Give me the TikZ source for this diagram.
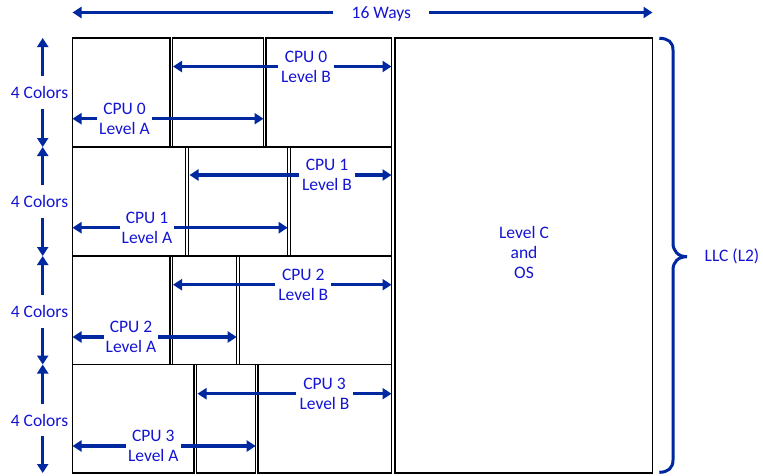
\documentclass[tikz,border=0pt]{standalone}
\usepackage{fontspec}
\setmainfont{Carlito}
\usetikzlibrary{arrows.meta}
\definecolor{arrowblue}{RGB}{0,40,160}
\definecolor{textblue}{RGB}{20,20,210}
\begin{document}
\begin{tikzpicture}[x=1pt,y=-1pt,
  box/.style={draw=black,line width=1.3pt},
  arr/.style={draw=arrowblue,line width=3.5pt,-{Triangle[length=9pt,width=11pt]}},
  brace/.style={draw=arrowblue,line width=3pt},
  lbl/.style={text=textblue,font=\fontsize{17.5}{20}\selectfont,align=center,inner xsep=2pt,inner ysep=0pt},
]
\useasboundingbox (0,0) rectangle (763,475);

% row 1
\draw[box] (72.5,38) rectangle (170,147);
\draw[box] (172.5,38) rectangle (263.5,147);
\draw[box] (266,38) rectangle (391.5,147);
% row 2
\draw[box] (72.5,147) rectangle (185.7,256);
\draw[box] (188.7,147) rectangle (287.7,256);
\draw[box] (290.7,147) rectangle (391.5,256);
% row 3
\draw[box] (72.5,256) rectangle (170,364.5);
\draw[box] (172.5,256) rectangle (236.7,364.5);
\draw[box] (239.2,256) rectangle (391.5,364.5);
% row 4
\draw[box] (72.5,364.5) rectangle (194,473);
\draw[box] (196.7,364.5) rectangle (255.7,473);
\draw[box] (258,364.5) rectangle (391.5,473);
% level C
\draw[box] (395,38) rectangle (652.5,473);

% top arrow
\node[lbl,text depth=0pt,inner xsep=18pt] (ways) at (381.3,12.5) {16 Ways};
\coordinate (wl) at (72.5,12.5);
\coordinate (wr) at (652.5,12.5);
\draw[arr] (ways.west) -- (wl);
\draw[arr] (ways.east) -- (wr);

% 4 Colors
\node[lbl,inner ysep=10pt] (c0) at (39.5,92.7) {4 Colors};
\node[lbl,inner ysep=10pt] (c1) at (39.5,201.7) {4 Colors};
\node[lbl,inner ysep=10pt] (c2) at (39.5,311.2) {4 Colors};
\node[lbl,inner ysep=10pt] (c3) at (39.5,420) {4 Colors};
\coordinate (k0) at (42.7,38);
\coordinate (k1) at (42.7,147);
\coordinate (k2) at (42.7,256);
\coordinate (k3) at (42.7,364.5);
\coordinate (k4) at (42.7,473);
\draw[arr] (c0.north -| k0) -- (k0);
\draw[arr] (c0.south -| k0) -- (k1);
\draw[arr] (c1.north -| k0) -- (k1);
\draw[arr] (c1.south -| k0) -- (k2);
\draw[arr] (c2.north -| k0) -- (k2);
\draw[arr] (c2.south -| k0) -- (k3);
\draw[arr] (c3.north -| k0) -- (k3);
\draw[arr] (c3.south -| k0) -- (k4);

% CPU 0
\node[lbl] (tA0) at (124.5,118.7) {CPU 0\\Level A};
\coordinate (a0l) at (72.5,118.7);
\coordinate (a0r) at (263.5,118.7);
\draw[arr] (tA0.west) -- (a0l);
\draw[arr] (tA0.east) -- (a0r);
\node[lbl,inner xsep=3pt] (tB0) at (306,66.5) {CPU 0\\Level B};
\coordinate (b0l) at (173,66.5);
\coordinate (b0r) at (391.5,66.5);
\draw[arr] (tB0.west) -- (b0l);
\draw[arr] (tB0.east) -- (b0r);

% CPU 1
\node[lbl] (tA1) at (147,227.7) {CPU 1\\Level A};
\coordinate (a1l) at (72.5,227.7);
\coordinate (a1r) at (287.7,227.7);
\draw[arr] (tA1.west) -- (a1l);
\draw[arr] (tA1.east) -- (a1r);
\node[lbl,inner xsep=3pt] (tB1) at (327,175) {CPU 1\\Level B};
\coordinate (b1l) at (189.5,175);
\coordinate (b1r) at (391.5,175);
\draw[arr] (tB1.west) -- (b1l);
\draw[arr] (tB1.east) -- (b1r);

% CPU 2
\node[lbl] (tA2) at (131,337) {CPU 2\\Level A};
\coordinate (a2l) at (72.5,337);
\coordinate (a2r) at (236.7,337);
\draw[arr] (tA2.west) -- (a2l);
\draw[arr] (tA2.east) -- (a2r);
\node[lbl,inner xsep=3pt] (tB2) at (303.3,284.7) {CPU 2\\Level B};
\coordinate (b2l) at (173,284.7);
\coordinate (b2r) at (391.5,284.7);
\draw[arr] (tB2.west) -- (b2l);
\draw[arr] (tB2.east) -- (b2r);

% CPU 3
\node[lbl] (tA3) at (153.3,446) {CPU 3\\Level A};
\coordinate (a3l) at (72.5,446);
\coordinate (a3r) at (255.7,446);
\draw[arr] (tA3.west) -- (a3l);
\draw[arr] (tA3.east) -- (a3r);
\node[lbl,inner xsep=3pt] (tB3) at (324.5,393.7) {CPU 3\\Level B};
\coordinate (b3l) at (197.5,393.7);
\coordinate (b3r) at (391.5,393.7);
\draw[arr] (tB3.west) -- (b3l);
\draw[arr] (tB3.east) -- (b3r);

% Level C
\node[lbl] (lc) at (524,252) {Level C\\and\\OS};

% brace
\draw[brace] (659.3,38.3) .. controls (668,38.3) and (673,42) .. (673,50)
  -- (673,243) .. controls (673,251) and (678,256.7) .. (687,256.7)
  .. controls (678,256.7) and (673,262) .. (673,270)
  -- (673,460) .. controls (673,468) and (668,472.3) .. (659.3,472.3);
\node[lbl] (llc) at (732,256.7) {LLC (L2)};
\end{tikzpicture}
\end{document}
